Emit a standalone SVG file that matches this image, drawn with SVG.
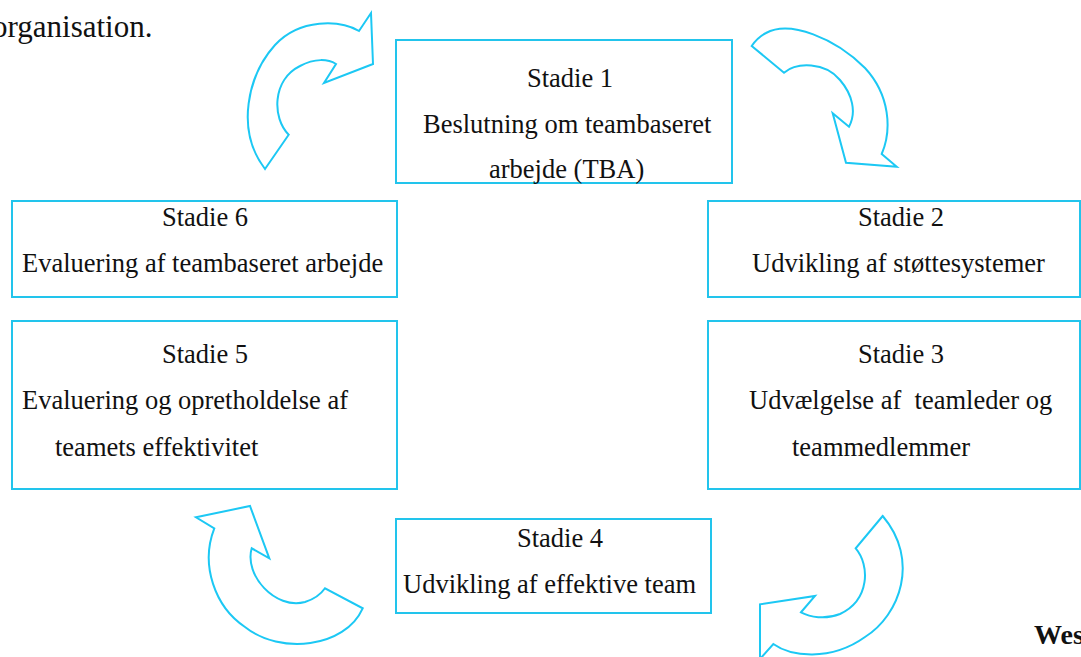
<svg xmlns="http://www.w3.org/2000/svg" width="1081" height="657" viewBox="0 0 1081 657">
<style>
.box{fill:#fff;stroke:#22C4EC;stroke-width:2}
.arr{fill:#fff;stroke:#1CC8F4;stroke-width:2;stroke-linejoin:miter}
text{font-family:"Liberation Serif","Times New Roman",serif;font-size:26.5px;fill:#111}
.body{font-size:31px}
.bold{font-weight:bold;font-size:28px}
</style>
<rect width="1081" height="657" fill="#fff"/>
<text class="body" x="-8" y="37">organisation.</text>
<text class="bold" x="1034" y="644">Wes</text>
<g id="connectors">
<path class="arr" d="M265,169 L288.7,134.7 C272,118 272,80 300,66 C315,58 328,59 336,64 L324,83 L373,64 L371,13 L359,31 C340,20 300,18 275,45 C248,75 235,130 265,169 Z"/>
<path class="arr" d="M751.7,46 L784,72.7 C797,62 825,62 840,80 C852,94 857,112 849,126.7 L832.7,113.3 L846,162.7 L896.7,166.7 L881.7,154 C892,130 890,95 865,68 C835,38 790,20 766,33 C760,36 755,41 751.7,46 Z"/>
<path class="arr" d="M196,517.3 L250,506 L269.3,558.3 L251.7,548.3 C244,575 275,610 305,602 C315,599 321,594 325,588.3 L362.7,608.3 C345,648 280,655 245,627 C215,607 200,565 214.3,528.3 Z"/>
<path class="arr" d="M882.7,516 L855.7,548.3 C870,565 870,600 840,614 C825,620 810,617 801,612.3 L815,596 L760,604.3 L760,659 L773.3,644 C790,656 830,662 865,637 C900,615 920,560 882.7,516 Z"/>
</g>
<g id="stage1">
<rect class="box" x="396" y="40" width="336" height="143"/>
<text x="527" y="87">Stadie 1</text>
<text x="423" y="133">Beslutning om teambaseret</text>
<text x="489" y="178">arbejde (TBA)</text>
</g>
<g id="stage2">
<rect class="box" x="708" y="201" width="372" height="96"/>
<text x="858" y="226">Stadie 2</text>
<text x="752" y="272">Udvikling af støttesystemer</text>
</g>
<g id="stage3">
<rect class="box" x="708" y="321" width="372" height="168"/>
<text x="858" y="363">Stadie 3</text>
<text x="749" y="409" xml:space="preserve">Udvælgelse af  teamleder og</text>
<text x="792" y="456">teammedlemmer</text>
</g>
<g id="stage4">
<rect class="box" x="396" y="519" width="315" height="94"/>
<text x="517" y="547">Stadie 4</text>
<text x="403" y="593">Udvikling af effektive team</text>
</g>
<g id="stage5">
<rect class="box" x="12" y="321" width="385" height="168"/>
<text x="162" y="363">Stadie 5</text>
<text x="22" y="409">Evaluering og opretholdelse af</text>
<text x="55" y="456">teamets effektivitet</text>
</g>
<g id="stage6">
<rect class="box" x="12" y="201" width="385" height="96"/>
<text x="162" y="226">Stadie 6</text>
<text x="22" y="272">Evaluering af teambaseret arbejde</text>
</g>
</svg>
